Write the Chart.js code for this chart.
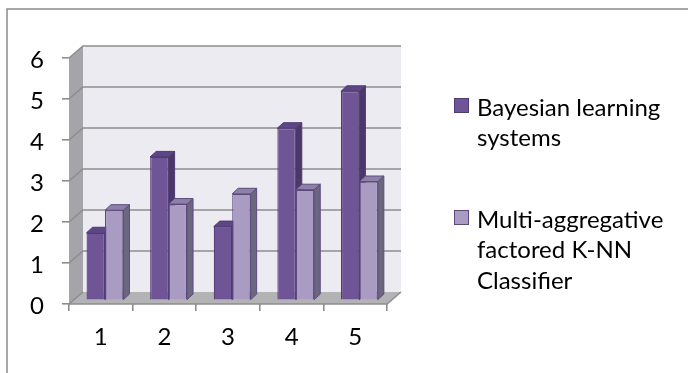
<!DOCTYPE html>
<html>
<head>
<meta charset="utf-8">
<style>
  html, body { margin: 0; padding: 0; background: #ffffff; }
  #wrap { position: relative; width: 688px; height: 373px; }
  canvas { display: block; }
</style>
<script src="https://cdn.jsdelivr.net/npm/chart.js@4/dist/chart.umd.min.js"></script>
</head>
<body>
<div id="wrap"><canvas id="chart" width="688" height="373"></canvas></div>
<script>
// Categories and series values
const categories = ['1', '2', '3', '4', '5'];
const bayesianLearning = [1.65, 3.5, 1.8, 4.2, 5.1];
const multiAggregativeKnn = [2.2, 2.35, 2.6, 2.7, 2.9];
const seriesNames = [
  ['Bayesian learning', 'systems'],
  ['Multi-aggregative', 'factored K-NN', 'Classifier']
];
const yMin = 0;
const yMax = 6;
const yStep = 1;

// Styling
const FONT = 'Lato, "Open Sans", sans-serif';
const FONT_SIZE = 24;
const palette = [
  { front: '#6f5596', top: '#5c4683', side: '#4b3868', edge: '#4f3a74' },
  { front: '#aa9bc3', top: '#8e81a8', side: '#6d6680', edge: '#5c4a7e' }
];

// 3D box geometry (screen offsets from the front plane)
const DEPTH = { dx: 14, dy: -12 };      // front edge -> back wall
const BAR_PLANE = 0.3;                  // bars' front face, fraction of depth
const BAR_DEPTH = { dx: 6, dy: -5.5 };  // thickness of each column

const box3d = {
  id: 'box3d',
  beforeDraw(chart) {
    const ctx = chart.ctx;
    ctx.save();
    ctx.fillStyle = '#ffffff';
    ctx.fillRect(0, 0, chart.width, chart.height);
    // chart frame
    ctx.strokeStyle = '#8c8c8c';
    ctx.lineWidth = 1.5;
    ctx.beginPath();
    ctx.moveTo(chart.width + 2, 9);
    ctx.lineTo(7, 9);
    ctx.lineTo(7, chart.height + 2);
    ctx.stroke();
    ctx.restore();
  },
  beforeDatasetsDraw(chart) {
    const ctx = chart.ctx;
    const y = chart.scales.y;
    const area = chart.chartArea;
    const L = area.left, R = area.right;
    const y0 = y.getPixelForValue(yMin);
    const yTop = y.getPixelForValue(yMax);
    const dx = DEPTH.dx, dy = DEPTH.dy;

    ctx.save();
    // back wall
    ctx.fillStyle = '#ecebf1';
    ctx.fillRect(L + dx, yTop + dy, (R - L), (y0 - yTop));
    // left side wall
    ctx.fillStyle = '#a5a5a9';
    ctx.beginPath();
    ctx.moveTo(L, yTop);
    ctx.lineTo(L + dx, yTop + dy);
    ctx.lineTo(L + dx, y0 + dy);
    ctx.lineTo(L, y0);
    ctx.closePath();
    ctx.fill();
    // floor
    ctx.fillStyle = '#b3b3b6';
    ctx.beginPath();
    ctx.moveTo(L, y0);
    ctx.lineTo(R, y0);
    ctx.lineTo(R + dx, y0 + dy);
    ctx.lineTo(L + dx, y0 + dy);
    ctx.closePath();
    ctx.fill();

    // gridlines: across the side wall and the back wall
    ctx.strokeStyle = '#8d8d8d';
    ctx.lineWidth = 1.6;
    for (let v = yMin + yStep; v <= yMax + 1e-9; v += yStep) {
      const py = y.getPixelForValue(v);
      ctx.beginPath();
      ctx.moveTo(L, py);
      ctx.lineTo(L + dx, py + dy);
      ctx.lineTo(R + dx, py + dy);
      ctx.stroke();
    }
    // floor edges
    ctx.beginPath();
    ctx.moveTo(L, y0);
    ctx.lineTo(R, y0);
    ctx.lineTo(R + dx, y0 + dy);
    ctx.stroke();
    ctx.beginPath();
    ctx.moveTo(L, y0);
    ctx.lineTo(L + dx, y0 + dy);
    ctx.stroke();

    // column top and side faces, in the bar plane
    const bx = dx * BAR_PLANE, by = dy * BAR_PLANE;
    ctx.translate(bx, by);
    ctx.lineWidth = 1;
    const metas = chart.data.datasets.map((_, i) => chart.getDatasetMeta(i));
    for (let j = 0; j < categories.length; j++) {
      metas.forEach((meta, i) => {
        const el = meta.data[j];
        if (!el) return;
        const p = el.getProps(['x', 'y', 'base', 'width'], true);
        const left = p.x - p.width / 2, right = p.x + p.width / 2;
        const top = Math.min(p.y, p.base), base = Math.max(p.y, p.base);
        const c = palette[i];
        const ddx = BAR_DEPTH.dx, ddy = BAR_DEPTH.dy;
        ctx.strokeStyle = c.edge;
        // side
        ctx.fillStyle = c.side;
        ctx.beginPath();
        ctx.moveTo(right, top);
        ctx.lineTo(right + ddx, top + ddy);
        ctx.lineTo(right + ddx, base + ddy);
        ctx.lineTo(right, base);
        ctx.closePath();
        ctx.fill();
        ctx.stroke();
        // top
        ctx.fillStyle = c.top;
        ctx.beginPath();
        ctx.moveTo(left, top);
        ctx.lineTo(left + ddx, top + ddy);
        ctx.lineTo(right + ddx, top + ddy);
        ctx.lineTo(right, top);
        ctx.closePath();
        ctx.fill();
        ctx.stroke();
      });
    }
    ctx.restore();

    // front faces are drawn by Chart.js in the bar plane
    ctx.save();
    ctx.translate(bx, by);
  },
  afterDatasetsDraw(chart) {
    chart.ctx.restore();
  },
  afterDraw(chart) {
    // legend with wrapped series names
    const ctx = chart.ctx;
    const markerX = 454, markerSize = 15, textX = 477, lineH = 30.5;
    const entryTops = [98, 210];
    ctx.save();
    ctx.font = FONT_SIZE + 'px ' + FONT;
    ctx.fillStyle = '#000000';
    ctx.textAlign = 'left';
    ctx.textBaseline = 'alphabetic';
    seriesNames.forEach((lines, i) => {
      const top = entryTops[i];
      const c = palette[i];
      ctx.fillStyle = c.front;
      ctx.fillRect(markerX, top, markerSize, markerSize);
      ctx.strokeStyle = c.edge;
      ctx.lineWidth = 1;
      ctx.strokeRect(markerX + 0.5, top + 0.5, markerSize - 1, markerSize - 1);
      ctx.fillStyle = '#000000';
      const firstBaseline = top + markerSize / 2 + 10;
      lines.forEach((t, k) => ctx.fillText(t, textX, firstBaseline + k * lineH));
    });
    ctx.restore();
  }
};

const chart = new Chart(document.getElementById('chart'), {
  type: 'bar',
  data: {
    labels: categories,
    datasets: [
      {
        label: seriesNames[0].join(' '),
        data: bayesianLearning,
        backgroundColor: palette[0].front,
        borderColor: palette[0].edge,
        borderWidth: 1.2,
        categoryPercentage: 0.58,
        barPercentage: 1.0
      },
      {
        label: seriesNames[1].join(' '),
        data: multiAggregativeKnn,
        backgroundColor: palette[1].front,
        borderColor: palette[1].edge,
        borderWidth: 1.2,
        categoryPercentage: 0.58,
        barPercentage: 1.0
      }
    ]
  },
  options: {
    responsive: false,
    devicePixelRatio: 1,
    animation: false,
    layout: { padding: { top: 58, right: 301, left: 0, bottom: 0 } },
    plugins: {
      legend: { display: false },
      tooltip: { enabled: false }
    },
    scales: {
      x: {
        type: 'category',
        offset: true,
        border: { display: false },
        grid: { offset: true, drawOnChartArea: false, drawTicks: true, tickLength: 7, color: '#8d8d8d', lineWidth: 1.6 },
        ticks: { color: '#000000', font: { family: FONT, size: FONT_SIZE }, padding: 12, maxRotation: 0 },
        afterFit(scale) { scale.height = 69; }
      },
      y: {
        min: yMin,
        max: yMax,
        border: { display: false },
        grid: { drawOnChartArea: false, drawTicks: true, tickLength: 7, color: '#8d8d8d', lineWidth: 1.6 },
        ticks: { stepSize: yStep, color: '#000000', font: { family: FONT, size: FONT_SIZE }, padding: 18, labelOffset: 2 },
        afterFit(scale) { scale.width = 69; }
      }
    }
  },
  plugins: [box3d]
});
</script>
</body>
</html>
